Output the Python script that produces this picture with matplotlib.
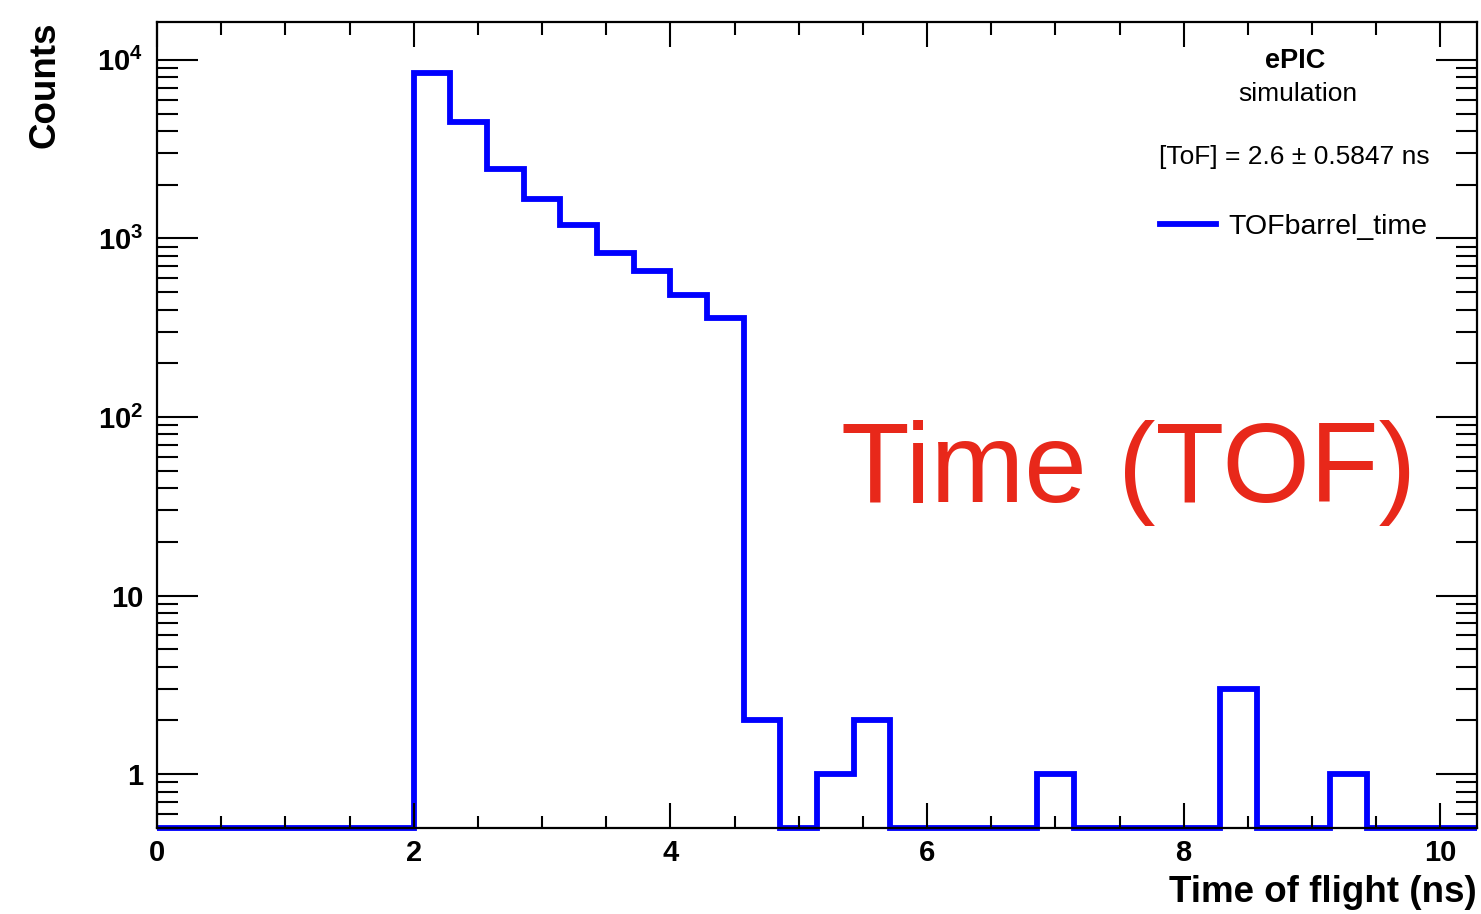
import numpy as np
import matplotlib
matplotlib.use("Agg")
import matplotlib.pyplot as plt
from matplotlib.ticker import FixedLocator, LogLocator, NullFormatter, FuncFormatter

# ---------------- data ----------------
x_min = 0.0
bin_width = 2.0 / 7.0
n_bins = 36
counts = [0, 0, 0, 0, 0, 0, 0,
          8460, 4510, 2460, 1670, 1183, 824, 655, 481, 357,
          2, 0, 1, 2, 0, 0, 0, 0, 1, 0, 0, 0, 0, 3, 0, 0, 1, 0, 0, 0]
x_major_ticks = [0, 2, 4, 6, 8, 10]
y_major_ticks = [1, 10, 100, 1000, 10000]
y_tick_labels = ["1", "10", r"$\mathbf{10^{2}}$", r"$\mathbf{10^{3}}$", r"$\mathbf{10^{4}}$"]
legend_label = "TOFbarrel_time"
stat_text = "[ToF] = 2.6 ± 0.5847 ns"
y_min, y_max = 0.5, 16300

plt.rcParams['font.family'] = ['Liberation Sans', 'DejaVu Sans']
plt.rcParams['mathtext.fontset'] = 'custom'
plt.rcParams['mathtext.rm'] = 'Liberation Sans'
plt.rcParams['mathtext.bf'] = 'Liberation Sans:bold'

fig = plt.figure(figsize=(14.81, 9.14), dpi=100)
ax = fig.add_axes([157 / 1481, 1 - 828 / 914, (1477 - 157) / 1481, (828 - 22) / 914])

edges = x_min + bin_width * np.arange(n_bins + 1)
vals = np.array(counts, dtype=float)
draw_vals = np.where(vals > 0, vals, y_min)
ax.stairs(draw_vals, edges, baseline=None, color='#0000ff', linewidth=4.2,
          clip_on=False, zorder=1, label=legend_label)

ax.set_yscale('log')
ax.set_xlim(edges[0], edges[-1])
ax.set_ylim(y_min, y_max)

for s in ax.spines.values():
    s.set_linewidth(1.6)
    s.set_zorder(3)

ax.xaxis.set_major_locator(FixedLocator(x_major_ticks))
ax.xaxis.set_minor_locator(FixedLocator(np.arange(0, 10.3, 0.5)))
ax.yaxis.set_major_locator(FixedLocator(y_major_ticks))
ax.yaxis.set_major_formatter(FuncFormatter(lambda v, p: y_tick_labels[y_major_ticks.index(round(v))] if round(v) in y_major_ticks else ""))
ax.yaxis.set_minor_locator(LogLocator(base=10, subs=np.arange(2, 10), numticks=20))
ax.yaxis.set_minor_formatter(NullFormatter())

ax.tick_params(axis='x', which='major', direction='in', length=18, width=1.5,
               top=True, bottom=True, labelsize=21, pad=8)
ax.tick_params(axis='x', which='minor', direction='in', length=9, width=1.5, top=True, bottom=True)
ax.tick_params(axis='y', which='major', direction='in', length=29.5, width=1.5,
               left=True, right=True, labelsize=21, pad=10)
ax.tick_params(axis='y', which='minor', direction='in', length=15, width=1.5, left=True, right=True)
for lab in ax.get_xticklabels() + ax.get_yticklabels():
    lab.set_fontweight('bold')

fig.text(1477 / 1481, 1 - 893 / 914, "Time of flight (ns)", ha='right', va='center',
         fontsize=26.5, fontweight='bold')
fig.text(45 / 1481, 1 - 22 / 914, "Counts", ha='center', va='top', rotation=90,
         fontsize=26.5, fontweight='bold')

fig.text(1295 / 1481, 1 - 61 / 914, "ePIC", ha='center', va='center', fontsize=19.5, fontweight='bold')
fig.text(1298 / 1481, 1 - 94 / 914, "simulation", ha='center', va='center', fontsize=19)
fig.text(1430 / 1481, 1 - 157 / 914, stat_text, ha='right', va='center', fontsize=19)

ax.legend(loc='center left', bbox_to_anchor=(1160 / 1481, 1 - 227 / 914),
          bbox_transform=fig.transFigure, frameon=False, fontsize=20.5,
          handlelength=1.95, handletextpad=0.45, borderpad=0, borderaxespad=0)

fig.text(1129 / 1481, 1 - 473 / 914, "Time (TOF)", ha='center', va='center',
         fontsize=81, color='#e8281a')

fig.savefig("out.png", dpi=100)
